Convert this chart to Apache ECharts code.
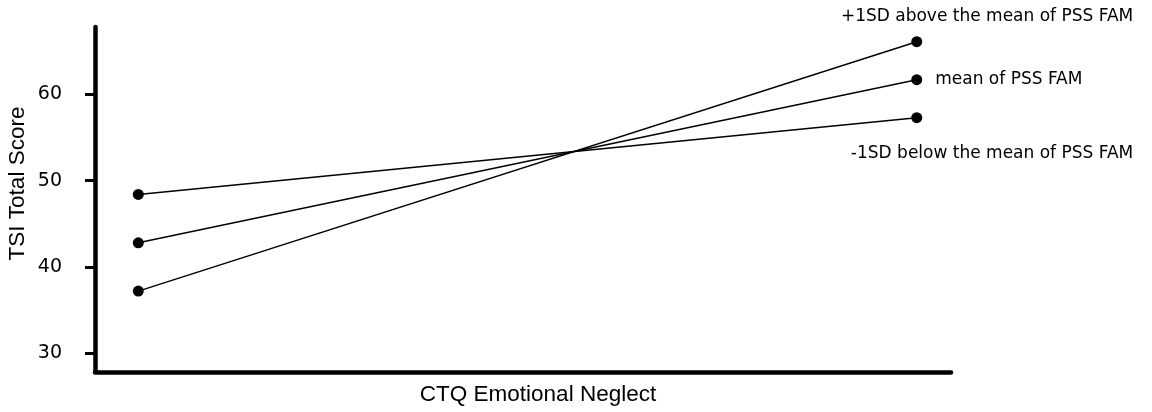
<html>
<head>
<title>TSI Total Score by CTQ Emotional Neglect</title>
<script src="https://cdn.jsdelivr.net/npm/echarts@6/dist/echarts.min.js"></script>
</head>
<body>
<style>
    html, body, #main {
        width: 100%;
        height: 100%;
        margin: 0;
        background: #fff;
    }
</style>
<div id="main"></div>
<script>

// low / high CTQ Emotional Neglect
let xLevels = [0, 1];
let seriesNames = ['+1SD above the mean of PSS FAM', 'mean of PSS FAM', '-1SD below the mean of PSS FAM'];
let plusSD = [37.2, 66.1];
let meanSD = [42.8, 61.7];
let minusSD = [48.4, 57.3];
let yTicks = [30, 40, 50, 60];

// label placement next to the right-hand point of each line
let labelPos = [
    {position: [222, -20], align: 'right'},
    {position: [24, 5], align: 'left'},
    {position: [222, 41], align: 'right'}
];

var myChart = echarts.init(document.getElementById('main'));

function makeSeries(name, vals, idx) {
    var data = xLevels.map(function(x, i) { return [x, vals[i]]; });
    data[1] = {
        value: data[1],
        label: {
            show: true,
            formatter: name,
            position: labelPos[idx].position,
            align: labelPos[idx].align,
            verticalAlign: 'middle',
            fontFamily: 'DejaVu Sans',
            fontSize: 17,
            color: '#000'
        }
    };
    return {
        name: name,
        type: 'line',
        data: data,
        symbol: 'circle',
        symbolSize: 11,
        itemStyle: {color: '#000'},
        lineStyle: {color: '#000', width: 1.5},
        emphasis: {disabled: true},
        animation: false
    };
}

option = {
    grid: {left: 95, right: 201, top: 27, bottom: 40, containLabel: false, outerBoundsMode: 'none'},
    xAxis: {
        type: 'value',
        min: -0.0556,
        max: 1.044,
        name: 'CTQ Emotional Neglect',
        nameLocation: 'middle',
        nameGap: 3,
        nameMoveOverlap: false,
        nameTextStyle: {fontFamily: 'Liberation Sans', fontSize: 22.5, color: '#000', padding: [0, 0, 0, 30]},
        axisLine: {onZero: false, lineStyle: {color: '#000', width: 4.5}},
        axisTick: {show: false},
        axisLabel: {show: false},
        splitLine: {show: false}
    },
    yAxis: {
        type: 'value',
        min: 27.83,
        max: 67.8,
        name: 'TSI Total Score',
        nameLocation: 'middle',
        nameGap: 58,
        nameRotate: 90,
        nameMoveOverlap: false,
        nameTextStyle: {fontFamily: 'Liberation Sans', fontSize: 22.5, color: '#000', padding: [0, 0, 0, 32]},
        axisLine: {show: true, onZero: false, lineStyle: {color: '#000', width: 4.5}},
        axisTick: {show: true, customValues: yTicks, length: 10, lineStyle: {color: '#000', width: 3}},
        axisLabel: {customValues: yTicks, margin: 33, fontFamily: 'DejaVu Sans', fontSize: 19, color: '#000'},
        splitLine: {show: false}
    },
    series: [
        makeSeries(seriesNames[0], plusSD, 0),
        makeSeries(seriesNames[1], meanSD, 1),
        makeSeries(seriesNames[2], minusSD, 2)
    ]
};
myChart.setOption(option);

</script>
</body>
</html>
